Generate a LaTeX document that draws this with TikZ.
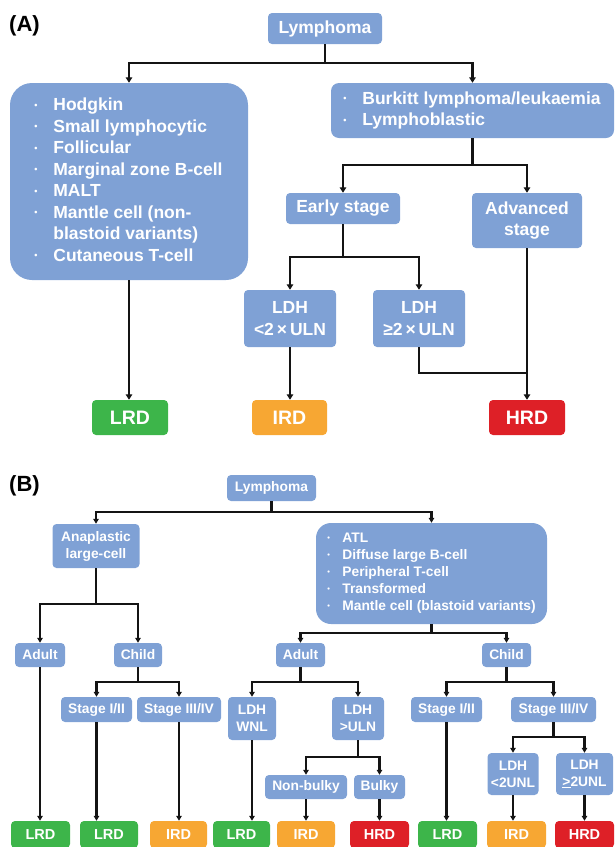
\documentclass[tikz,border=0pt]{standalone}
\usepackage{fontspec}
\setmainfont{Liberation Sans}
\usetikzlibrary{arrows.meta}
\definecolor{boxblue}{RGB}{127,161,213}
\definecolor{lrdgreen}{RGB}{61,181,74}
\definecolor{irdorange}{RGB}{247,167,51}
\definecolor{hrdred}{RGB}{222,32,39}
\definecolor{linegray}{RGB}{20,20,20}
\newcommand{\fA}{\fontsize{17.5}{21.5}\selectfont\bfseries}
\newcommand{\fAbig}{\fontsize{19.5}{22}\selectfont\bfseries}
\newcommand{\fB}{\fontsize{13.8}{17}\selectfont\bfseries}
\newcommand{\fBbig}{\fontsize{14.5}{17}\selectfont\bfseries}
\newcommand{\blt}{\makebox[18pt][l]{\hspace{-1pt}\raisebox{2.5pt}{\fontsize{9}{9}\selectfont\textbullet}}}
\newcommand{\bltB}{\makebox[15pt][l]{\raisebox{2pt}{\fontsize{7.5}{7.5}\selectfont\textbullet}}}
\begin{document}
\begin{tikzpicture}[x=1pt,y=-1pt,
  base/.style={rounded corners=4pt, text=white, align=center, inner sep=0pt},
  bx/.style={base, fill=boxblue},
  lrd/.style={base, fill=lrdgreen},
  ird/.style={base, fill=irdorange},
  hrd/.style={base, fill=hrdred},
  sz/.style 2 args={minimum width=#1pt, minimum height=#2pt},
  lnA/.style={draw=linegray, line width=2.8pt},
  arA/.style={lnA, -{Triangle[length=5.5pt,width=6.5pt]}},
  lnB/.style={draw=linegray, line width=2.3pt},
  arB/.style={lnB, -{Triangle[length=5pt,width=5.5pt]}},
  panel/.style={anchor=west, font=\fontsize{22}{24}\selectfont\bfseries, inner sep=0pt}
]
\useasboundingbox (0,0) rectangle (614,847);

%%%%%%%%%%%%%%%% Panel A
\node[panel] (labA) at (9,26) {(A)};
\node[bx, sz={114}{31}, font=\fA] (lymA) at (325,28.5) {Lymphoma};
\node[bx, sz={238}{197}, rounded corners=22pt, font=\fA, align=left] (listL) at (129,181.5)
 {\begin{tabular}{@{}l@{}l@{}}
  \blt & Hodgkin\\
  \blt & Small lymphocytic\\
  \blt & Follicular\\
  \blt & Marginal zone B-cell\\
  \blt & MALT\\
  \blt & Mantle cell (non-\\
       & blastoid variants)\\
  \blt & Cutaneous T-cell
 \end{tabular}};
\node[bx, sz={283}{55}, rounded corners=8pt, font=\fA, align=left] (listR) at (472.5,110.5)
 {\begin{tabular}{@{}l@{}l@{}}
  \blt & Burkitt lymphoma/leukaemia\\
  \blt & Lymphoblastic
 \end{tabular}};
\node[bx, sz={114}{31}, font=\fA] (early) at (343,208.5) {Early stage};
\node[bx, sz={110}{55}, font=\fA] (adv) at (527,220.5) {Advanced\\stage};
\node[bx, sz={92}{57}, font=\fA] (ldh1) at (290,318.5) {LDH\\<2\,×\,ULN};
\node[bx, sz={92}{57}, font=\fA] (ldh2) at (419,318.5) {LDH\\≥2\,×\,ULN};
\node[lrd, sz={76}{35}, font=\fAbig] (lrdA) at (130,417.5) {LRD};
\node[ird, sz={75}{35}, font=\fAbig] (irdA) at (289.5,417.5) {IRD};
\node[hrd, sz={76}{35}, font=\fAbig] (hrdA) at (527,417.5) {HRD};

\coordinate (jA) at (325,63);
\coordinate (jB) at (472.5,165);
\coordinate (jC) at (343,257);
\coordinate (jD) at (527,373);
\draw[lnA] (lymA.south) -- (jA);
\draw[arA] (jA) -| (listL.north);
\draw[arA] (jA) -| (listR.north);
\draw[lnA] (listR.south) -- (jB);
\draw[arA] (jB) -| (early.north);
\draw[arA] (jB) -| (adv.north);
\draw[lnA] (early.south) -- (jC);
\draw[arA] (jC) -| (ldh1.north);
\draw[arA] (jC) -| (ldh2.north);
\draw[arA] (listL.south) -- (listL.south |- lrdA.north);
\draw[arA] (ldh1.south) -- (ldh1.south |- irdA.north);
\draw[arA] (adv.south) -- (hrdA.north);
\draw[lnA] (ldh2.south) |- (jD);

%%%%%%%%%%%%%%%% Panel B
\node[panel] (labB) at (9,486) {(B)};
\node[bx, sz={89}{26}, font=\fB] (lymB) at (271.5,488) {Lymphoma};
\node[bx, sz={87}{44}, font=\fB] (anap) at (96,546) {Anaplastic\\large-cell};
\node[bx, sz={231}{101}, rounded corners=15pt, font=\fB, align=left] (atl) at (431.5,573.5)
 {\begin{tabular}{@{}l@{}l@{}}
  \bltB & ATL\\
  \bltB & Diffuse large B-cell\\
  \bltB & Peripheral T-cell\\
  \bltB & Transformed\\
  \bltB & Mantle cell (blastoid variants)
 \end{tabular}};
\node[bx, sz={50}{24}, font=\fB] (adultL) at (40,655) {Adult};
\node[bx, sz={48}{24}, font=\fB] (childL) at (138,655) {Child};
\node[bx, sz={49}{24}, font=\fB] (adultM) at (300.5,655) {Adult};
\node[bx, sz={49}{24}, font=\fB] (childR) at (506.5,655) {Child};
\node[bx, sz={71}{25}, font=\fB] (st12L) at (96.5,709.5) {Stage I/II};
\node[bx, sz={84}{25}, font=\fB] (st34L) at (179,709.5) {Stage III/IV};
\node[bx, sz={48}{43}, font=\fB] (wnl) at (252,718.5) {LDH\\WNL};
\node[bx, sz={52}{43}, font=\fB] (uln) at (358,718.5) {LDH\\>ULN};
\node[bx, sz={82}{24}, font=\fB] (nonbulky) at (306,787) {Non-bulky};
\node[bx, sz={51}{24}, font=\fB] (bulky) at (379.5,787) {Bulky};
\node[bx, sz={71}{25}, font=\fB] (st12R) at (446.5,709.5) {Stage I/II};
\node[bx, sz={85}{25}, font=\fB] (st34R) at (553.5,709.5) {Stage III/IV};
\node[bx, sz={51}{42}, font=\fB] (lt2) at (513,774) {LDH\\<2UNL};
\node[bx, sz={57}{42}, font=\fB] (ge2) at (584.5,774) {LDH\\\underline{>}2UNL};

\node[lrd, sz={59}{27}, font=\fBbig] (b1) at (40.5,834.5) {LRD};
\node[lrd, sz={58}{27}, font=\fBbig] (b2) at (109,834.5) {LRD};
\node[ird, sz={57}{27}, font=\fBbig] (b3) at (178.5,834.5) {IRD};
\node[lrd, sz={57}{27}, font=\fBbig] (b4) at (241.5,834.5) {LRD};
\node[ird, sz={58}{27}, font=\fBbig] (b5) at (306,834.5) {IRD};
\node[hrd, sz={59}{27}, font=\fBbig] (b6) at (379.5,834.5) {HRD};
\node[lrd, sz={59}{27}, font=\fBbig] (b7) at (447.5,834.5) {LRD};
\node[ird, sz={59}{27}, font=\fBbig] (b8) at (516.5,834.5) {IRD};
\node[hrd, sz={59}{27}, font=\fBbig] (b9) at (584.5,834.5) {HRD};

\coordinate (kA) at (271.5,512);
\coordinate (kB) at (96,604);
\coordinate (kC) at (431.5,633);
\coordinate (kD) at (138,682);
\coordinate (kE) at (300.5,682);
\coordinate (kF) at (506.5,682);
\coordinate (kG) at (358,757);
\coordinate (kH) at (553.5,737);
\draw[lnB] (lymB.south) -- (kA);
\draw[arB] (kA) -| (anap.north);
\draw[arB] (kA) -| (atl.north);
\draw[lnB] (anap.south) -- (kB);
\draw[arB] (kB) -| (adultL.north);
\draw[arB] (kB) -| (childL.north);
\draw[lnB] (atl.south) -- (kC);
\draw[arB] (kC) -| (adultM.north);
\draw[arB] (kC) -| (childR.north);
\draw[lnB] (childL.south) -- (kD);
\draw[arB] (kD) -| (st12L.north);
\draw[arB] (kD) -| (st34L.north);
\draw[lnB] (adultM.south) -- (kE);
\draw[arB] (kE) -| (wnl.north);
\draw[arB] (kE) -| (uln.north);
\draw[lnB] (childR.south) -- (kF);
\draw[arB] (kF) -| (st12R.north);
\draw[arB] (kF) -| (st34R.north);
\draw[lnB] (uln.south) -- (kG);
\draw[arB] (kG) -| (nonbulky.north);
\draw[arB] (kG) -| (bulky.north);
\draw[lnB] (st34R.south) -- (kH);
\draw[arB] (kH) -| (lt2.north);
\draw[arB] (kH) -| (ge2.north);
\draw[arB] (adultL.south) -- (adultL.south |- b1.north);
\draw[arB] (st12L.south) -- (st12L.south |- b2.north);
\draw[arB] (st34L.south) -- (st34L.south |- b3.north);
\draw[arB] (wnl.south) -- (wnl.south |- b4.north);
\draw[arB] (nonbulky.south) -- (nonbulky.south |- b5.north);
\draw[arB] (bulky.south) -- (bulky.south |- b6.north);
\draw[arB] (st12R.south) -- (st12R.south |- b7.north);
\draw[arB] (lt2.south) -- (lt2.south |- b8.north);
\draw[arB] (ge2.south) -- (ge2.south |- b9.north);
\end{tikzpicture}
\end{document}
